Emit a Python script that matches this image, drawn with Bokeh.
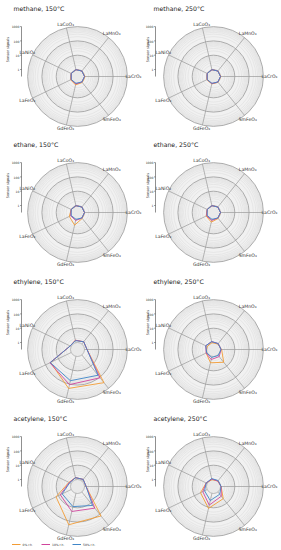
import numpy as np
from bokeh.plotting import figure
from bokeh.models import ColumnDataSource
from bokeh.core.properties import value
from bokeh.embed import file_html
from bokeh.resources import INLINE

# ---------------- data ----------------
materials = ["LaCrO₃", "LaMnO₃", "LaCoO₃", "LaNiO₃", "LaFeO₃", "GdFeO₃", "SmFeO₃"]
gases = ["methane", "ethane", "ethylene", "acetylene"]
temperatures = ["150°C", "250°C"]
humidity = ["0% r.h.", "10% r.h.", "50% r.h."]
radial_ticks = [1, 10, 100, 1000]
radial_tick_labels = ["1", "10", "100", "1000"]

# sensor signals per material (order of `materials`), rows: 0%, 10%, 50% r.h.
methane_150 = [[1.1, 1.0, 1.0, 1.0, 1.1, 1.3, 1.1],
               [1.0, 1.0, 1.0, 1.0, 1.0, 1.1, 1.0],
               [1.0, 1.0, 1.0, 1.0, 1.0, 1.0, 1.0]]
methane_250 = [[1.05, 1.0, 1.0, 1.0, 1.05, 1.1, 1.05],
               [1.0, 1.0, 1.0, 1.0, 1.0, 1.05, 1.0],
               [1.0, 1.0, 1.0, 1.0, 1.0, 1.0, 1.0]]
ethane_150 = [[1.0, 1.0, 1.0, 1.0, 1.4, 2.6, 1.1],
              [1.0, 1.0, 1.0, 1.0, 1.1, 1.2, 1.0],
              [1.0, 1.0, 1.0, 1.0, 1.0, 1.0, 1.0]]
ethane_250 = [[1.0, 1.0, 1.0, 1.0, 1.2, 1.6, 1.1],
              [1.0, 1.0, 1.0, 1.0, 1.1, 1.2, 1.0],
              [1.0, 1.0, 1.0, 1.0, 1.0, 1.0, 1.0]]
ethylene_150 = [[1.5, 1.6, 1.5, 1.2, 40, 200, 300],
                [1.5, 1.6, 1.5, 1.2, 45, 107, 110],
                [1.5, 1.6, 1.4, 1.2, 42, 56, 65]]
ethylene_250 = [[1.2, 1.0, 1.0, 1.0, 1.2, 2.9, 4.5],
                [1.1, 1.1, 1.2, 1.3, 1.2, 1.7, 1.4],
                [1.1, 1.1, 1.2, 1.3, 1.1, 1.2, 1.1]]
acetylene_150 = [[1.3, 1.4, 1.4, 1.5, 15, 180, 140],
                 [1.3, 1.4, 1.4, 1.4, 7, 20, 28],
                 [1.3, 1.4, 1.4, 1.3, 5, 9, 16]]
acetylene_250 = [[1.1, 1.0, 1.0, 1.2, 3.3, 12, 4],
                 [1.1, 1.0, 1.1, 1.2, 2.2, 7, 2.4],
                 [1.1, 1.1, 1.2, 1.2, 1.6, 3.3, 1.6]]

panel_data = {
    ("methane", "150°C"): methane_150, ("methane", "250°C"): methane_250,
    ("ethane", "150°C"): ethane_150, ("ethane", "250°C"): ethane_250,
    ("ethylene", "150°C"): ethylene_150, ("ethylene", "250°C"): ethylene_250,
    ("acetylene", "150°C"): acetylene_150, ("acetylene", "250°C"): acetylene_250,
}

# ---------------- styling / layout ----------------
W, H = 281, 550
COLORS = ["#f39c34", "#d0459c", "#3f86c8"]
DISK = "#f1f1f1"
MINOR = "#dadada"
MAJOR = "#9a9a9a"
FONT = value("DejaVu Sans")
R_HOLE = 7.0
K_DEC = 14.3
R_OUT = R_HOLE + 3 * K_DEC
col_cx = [77, 213]
col_title_dx = [-64, -60]
col_axis_dx = [-56, -58]
col_label_dx = [-70, -66]
row_cy = [76, 212, 349, 486]


def rad(v):
    return R_HOLE + K_DEC * np.log10(max(v, 1.0))


def to_data(px, py):
    return px, H - py


p = figure(width=W, height=H, x_range=(0, W), y_range=(0, H),
           output_backend="svg", toolbar_location=None, min_border=0,
           x_axis_type=None, y_axis_type=None)
p.grid.visible = False
p.outline_line_color = None

n = len(materials)
theta = np.array([i * 2 * np.pi / n for i in range(n)])


def draw_panel(ci, cyp, gas, temp, data):
    cx, cy = to_data(col_cx[ci], cyp)
    p.circle(x=[cx], y=[cy], radius=R_OUT, fill_color=DISK, line_color=None)
    minor = [m * 10 ** k for k in range(3) for m in range(2, 10)]
    p.circle(x=[cx] * len(minor), y=[cy] * len(minor),
             radius=[rad(v) for v in minor], fill_color=None,
             line_color=MINOR, line_width=0.5)
    p.circle(x=[cx] * 3, y=[cy] * 3, radius=[rad(v) for v in radial_ticks[1:]],
             fill_color=None, line_color=MAJOR, line_width=0.8)
    p.circle(x=[cx], y=[cy], radius=R_HOLE, fill_color="#e9e9e9",
             line_color=MAJOR, line_width=0.6)
    p.segment(x0=cx + R_HOLE * np.cos(theta), y0=cy + R_HOLE * np.sin(theta),
              x1=cx + R_OUT * np.cos(theta), y1=cy + R_OUT * np.sin(theta),
              line_color=MAJOR, line_width=0.7)
    for series, color in zip(data, COLORS):
        r = np.array([rad(v) for v in series])
        xs = list(cx + r * np.cos(theta)) + [cx + r[0]]
        ys = list(cy + r * np.sin(theta)) + [cy]
        p.line(xs, ys, line_color=color, line_width=0.9, line_join="round")
    rl = 53 + 3 * np.abs(np.cos(theta))
    src = ColumnDataSource(dict(x=cx + rl * np.cos(theta), y=cy + rl * np.sin(theta),
                                t=materials))
    p.text(x="x", y="y", text="t", source=src, text_font=FONT,
           text_font_size="4.6px", text_align="center", text_baseline="middle",
           text_color="#333333")
    # title
    p.text(x=[cx + col_title_dx[ci]], y=[cy + 68], text=[f"{gas}, {temp}"],
           text_font=FONT, text_font_size="6.2px", text_align="left",
           text_baseline="middle", text_color="#222222")
    # radial axis on the left
    ax = cx + col_axis_dx[ci]
    p.segment(x0=[ax], y0=[cy], x1=[ax], y1=[cy + R_OUT], line_color="#444444",
              line_width=0.6)
    ty = [cy + rad(v) for v in radial_ticks]
    p.segment(x0=[ax - 1.5] * 4, y0=ty, x1=[ax] * 4, y1=ty, line_color="#444444",
              line_width=0.5)
    p.text(x=[ax - 2.2] * 4, y=ty, text=radial_tick_labels, text_font=FONT,
           text_font_size="3px", text_align="right", text_baseline="middle",
           text_color="#333333")
    p.text(x=[cx + col_label_dx[ci]], y=[cy + 27], text=["Sensor signals"],
           angle=np.pi / 2, text_font=FONT, text_font_size="3.5px",
           text_align="center", text_baseline="middle", text_color="#333333")


for ri, gas in enumerate(gases):
    for ci, temp in enumerate(temperatures):
        draw_panel(ci, row_cy[ri], gas, temp, panel_data[(gas, temp)])

# legend
leg_y = H - 544
leg_x = [20, 49.5, 80.5]
for lx, color, lab in zip(leg_x, COLORS, humidity):
    p.segment(x0=[lx - 8.5], y0=[leg_y], x1=[lx], y1=[leg_y], line_color=color,
              line_width=1.0)
    p.text(x=[lx + 2], y=[leg_y], text=[lab], text_font=FONT, text_font_size="3px",
           text_align="left", text_baseline="middle", text_color="#333333")

open("out.html", "w").write(file_html(p, INLINE))
